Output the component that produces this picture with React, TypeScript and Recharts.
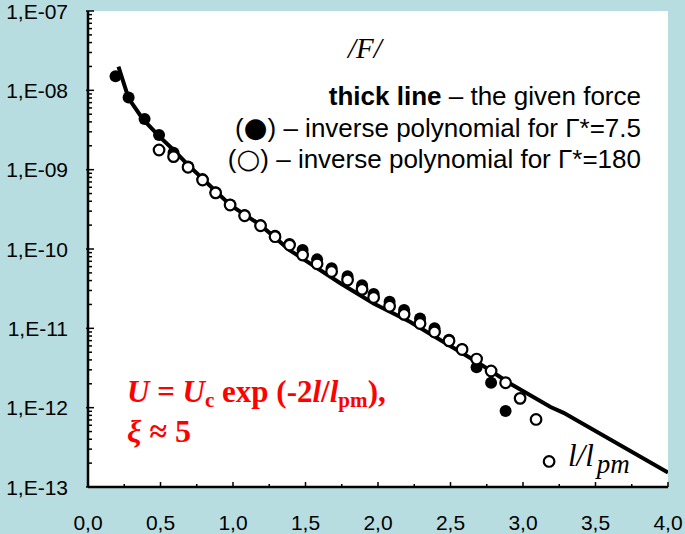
import React from 'react';
import { ComposedChart, Line, Scatter, XAxis, YAxis, CartesianGrid } from 'recharts';

// thick line – the given force
const LINE_X = [0.21, 0.28, 0.38, 0.49, 0.59, 0.69, 0.8, 0.98, 1.19, 1.39, 1.74, 1.97, 2.22, 2.68, 2.91, 3.19, 3.28, 4.0];
const LINE_Y = [1.99e-8, 7.9e-9, 4.3e-9, 2.65e-9, 1.77e-9, 1.15e-9, 7.4e-10, 3.6e-10, 2.0e-10, 9.7e-11, 3.7e-11, 2.06e-11, 1.21e-11, 3.8e-12, 2.02e-12, 1.02e-12, 8.6e-13, 1.52e-13];

// filled circles – inverse polynomial for Γ*=7.5
const FILLED_X = [0.19, 0.28, 0.39, 0.49, 0.59, 0.69, 0.79, 0.88, 0.98, 1.08, 1.19, 1.29, 1.39, 1.48, 1.58, 1.68, 1.79, 1.89, 1.97, 2.08, 2.18, 2.29, 2.39, 2.49, 2.58, 2.68, 2.78, 2.88];
const FILLED_Y = [1.51e-8, 8.1e-9, 4.35e-9, 2.73e-9, 1.63e-9, 1.1e-9, 7.6e-10, 5.2e-10, 3.65e-10, 2.68e-10, 2.0e-10, 1.47e-10, 1.16e-10, 9.7e-11, 7.4e-11, 5.7e-11, 4.55e-11, 3.5e-11, 2.7e-11, 2.16e-11, 1.7e-11, 1.33e-11, 1.0e-11, 7.2e-12, 5.5e-12, 3.24e-12, 2.06e-12, 9.1e-13];

// open circles – inverse polynomial for Γ*=180
const OPEN_X = [0.49, 0.59, 0.69, 0.79, 0.88, 0.98, 1.08, 1.19, 1.29, 1.39, 1.48, 1.58, 1.68, 1.79, 1.89, 1.97, 2.08, 2.18, 2.29, 2.39, 2.49, 2.58, 2.68, 2.78, 2.88, 2.98, 3.09, 3.18];
const OPEN_Y = [1.77e-9, 1.46e-9, 1.07e-9, 7.4e-10, 5.1e-10, 3.58e-10, 2.62e-10, 1.96e-10, 1.43e-10, 1.12e-10, 8.4e-11, 6.5e-11, 5.2e-11, 4.06e-11, 3.1e-11, 2.45e-11, 1.9e-11, 1.5e-11, 1.15e-11, 9.0e-12, 6.95e-12, 5.4e-12, 4.1e-12, 2.9e-12, 2.06e-12, 1.31e-12, 7.1e-13, 2.1e-13];

const X_MAJOR = [0, 0.5, 1, 1.5, 2, 2.5, 3, 3.5, 4];
const X_LABELS = ['0,0', '0,5', '1,0', '1,5', '2,0', '2,5', '3,0', '3,5', '4,0'];
const X_MINOR = [0.25, 0.75, 1.25, 1.75, 2.25, 2.75, 3.25, 3.75];

const Y_MAJOR = [1e-13, 1e-12, 1e-11, 1e-10, 1e-9, 1e-8, 1e-7];
const Y_LABELS = ['1,E-13', '1,E-12', '1,E-11', '1,E-10', '1,E-09', '1,E-08', '1,E-07'];
const Y_MULT = [2, 3, 4, 5, 6, 7, 8, 9];

const lineData = LINE_X.map((x, i) => ({ x, y: LINE_Y[i] }));
const filledData = FILLED_X.map((x, i) => ({ x, y: FILLED_Y[i] }));
const openData = OPEN_X.map((x, i) => ({ x, y: OPEN_Y[i] }));

const xTicks = [...X_MAJOR, ...X_MINOR].sort((a, b) => a - b);
const yTicks = [
  ...Y_MAJOR,
  ...Y_MAJOR.slice(0, -1).flatMap((m) => Y_MULT.map((k) => m * k)),
].sort((a, b) => a - b);

const BG = '#b7dde0';
const SANS = '"Liberation Sans", Arial, sans-serif';
const SERIF = '"Liberation Serif", "Times New Roman", serif';

const XTick = (props: any) => {
  const { x, y, payload } = props;
  const idx = X_MAJOR.indexOf(payload.value);
  const major = idx >= 0;
  return (
    <g>
      <line x1={x} x2={x} y1={y} y2={y - (major ? 5 : 3)} stroke="#000" strokeWidth={1.5} />
      {major && (
        <text x={x} y={y + 43} textAnchor="middle" fontFamily={SANS} fontSize={21} fill="#000">
          {X_LABELS[idx]}
        </text>
      )}
    </g>
  );
};

const YTick = (props: any) => {
  const { x, y, payload } = props;
  const idx = Y_MAJOR.findIndex((m) => Math.abs(m - payload.value) / m < 1e-6);
  const major = idx >= 0;
  return (
    <g>
      <line x1={x - (major ? 2 : 0)} x2={x + (major ? 6 : 4)} y1={y} y2={y} stroke="#000" strokeWidth={1.5} />
      {major && (
        <text x={x - 20} y={y} dy="0.36em" textAnchor="end" fontFamily={SANS} fontSize={21} fill="#000">
          {Y_LABELS[idx]}
        </text>
      )}
    </g>
  );
};

const abs = (left: number, top: number, extra: React.CSSProperties = {}): React.CSSProperties => ({
  position: 'absolute',
  left,
  top,
  lineHeight: 1,
  whiteSpace: 'nowrap',
  ...extra,
});

const glyph: React.CSSProperties = { fontFamily: '"DejaVu Sans", sans-serif', fontSize: '1.05em', lineHeight: 0 };

export default function App() {
  return (
    <div style={{ position: 'absolute', left: 0, top: 0, width: 685, height: 534, background: BG }}>
      <ComposedChart width={685} height={534} margin={{ top: 11, right: 17, bottom: 0, left: 8 }}>
        <CartesianGrid fill="#fff" stroke="none" />
        <XAxis
          type="number"
          dataKey="x"
          domain={[0, 4]}
          ticks={xTicks}
          interval={0}
          tickSize={0}
          tickMargin={0}
          tick={<XTick />}
          height={47}
          allowDataOverflow
          axisLine={{ stroke: '#000', strokeWidth: 2.5 }}
        />
        <XAxis xAxisId="top" orientation="top" type="number" domain={[0, 4]} height={0} tick={false} tickLine={false} axisLine={{ stroke: '#000', strokeWidth: 2.5 }} />
        <YAxis
          type="number"
          scale="log"
          domain={[1e-13, 1e-7]}
          ticks={yTicks}
          interval={0}
          tickSize={0}
          tickMargin={0}
          tick={<YTick />}
          width={80}
          allowDataOverflow
          axisLine={{ stroke: '#000', strokeWidth: 2.5 }}
        />
        <YAxis yAxisId="right" orientation="right" type="number" domain={[0, 1]} width={0} tick={false} tickLine={false} axisLine={{ stroke: '#000', strokeWidth: 2.5 }} />
        <Line
          data={lineData}
          dataKey="y"
          type="linear"
          stroke="#000"
          strokeWidth={4}
          dot={false}
          isAnimationActive={false}
        />
        <Scatter
          data={filledData}
          dataKey="y"
          isAnimationActive={false}
          shape={(p: any) => <circle cx={p.cx} cy={p.cy} r={6} fill="#000" />}
        />
        <Scatter
          data={openData}
          dataKey="y"
          isAnimationActive={false}
          shape={(p: any) => <circle cx={p.cx} cy={p.cy} r={5.3} fill="#fff" stroke="#000" strokeWidth={2.2} />}
        />
      </ComposedChart>

      <div style={abs(348, 34, { fontFamily: SERIF, fontStyle: 'italic', fontSize: 29 })}>/F/</div>

      <div style={{ position: 'absolute', right: 44, top: 81, textAlign: 'right', fontFamily: SANS, fontSize: 26, lineHeight: '31.5px', whiteSpace: 'nowrap' }}>
        <div><b>thick line</b> – the given force</div>
        <div>(<span style={glyph}>●</span>) – inverse polynomial for Γ*=7.5</div>
        <div>(<span style={glyph}>○</span>) – inverse polynomial for Γ*=180</div>
      </div>

      <div style={abs(127, 376, { fontFamily: SERIF, fontWeight: 'bold', fontSize: 31, color: '#ff0000' })}>
        <i>U</i> = <i>U</i>
        <span style={{ fontSize: '0.68em', verticalAlign: '-0.22em', lineHeight: 0 }}>c</span> exp (-2<i>l</i>/<i>l</i>
        <span style={{ fontSize: '0.68em', verticalAlign: '-0.22em', lineHeight: 0 }}>pm</span>),
      </div>
      <div style={abs(127, 415, { fontFamily: SERIF, fontWeight: 'bold', fontSize: 32, color: '#ff0000' })}>
        <i>ξ</i> ≈ 5
      </div>

      <div style={abs(568, 440, { fontFamily: SERIF, fontStyle: 'italic', fontSize: 31 })}>
        l/l<span style={{ fontSize: 27, verticalAlign: -7, lineHeight: 0, marginLeft: 3 }}>pm</span>
      </div>
    </div>
  );
}
